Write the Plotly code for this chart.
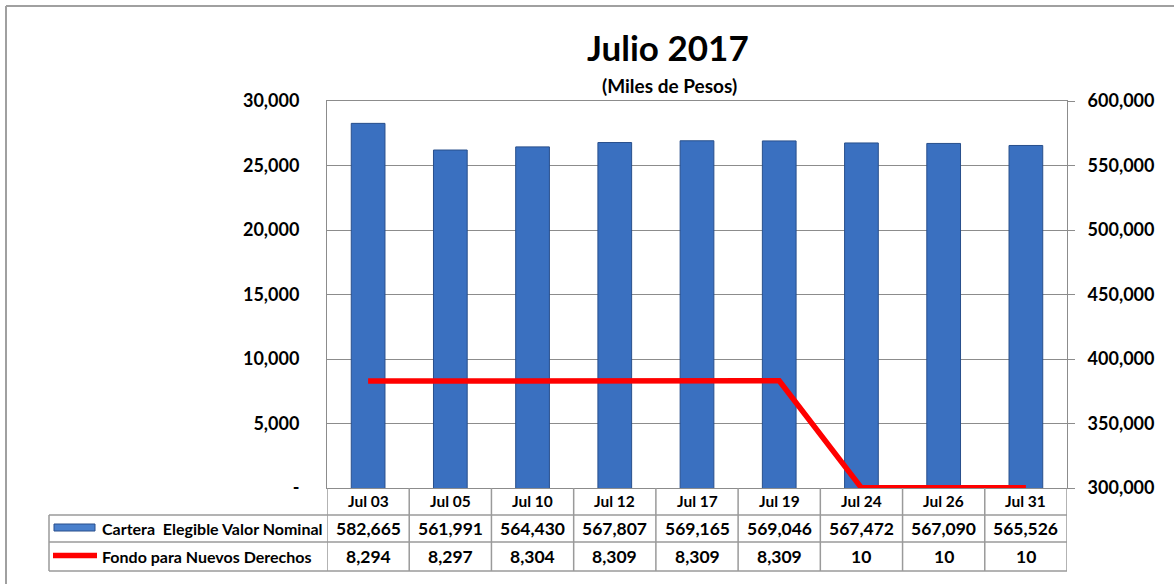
import plotly.graph_objects as go

categories = ["Jul 03", "Jul 05", "Jul 10", "Jul 12", "Jul 17", "Jul 19", "Jul 24", "Jul 26", "Jul 31"]
cartera = [582665, 561991, 564430, 567807, 569165, 569046, 567472, 567090, 565526]
fondo = [8294, 8297, 8304, 8309, 8309, 8309, 10, 10, 10]
left_ticks = [0, 5000, 10000, 15000, 20000, 25000, 30000]
left_ticktext = ["-", "5,000", "10,000", "15,000", "20,000", "25,000", "30,000"]
right_ticks = [300000, 350000, 400000, 450000, 500000, 550000, 600000]
series_names = ["Cartera\u00a0 Elegible Valor Nominal", "Fondo para Nuevos Derechos"]

W, H = 1174, 584
L, R, T, B = 327, 107, 101, 96
PW, PH = W - L - R, H - T - B
FONT = "Lato"
GRID = "#8c8c8c"
TABLE = "#9a9a9a"


def px_x(p):
    return (p - L) / PW


def px_y(p):
    return (H - B - p) / PH


fig = go.Figure()
fig.add_trace(go.Bar(
    x=categories, y=cartera, name=series_names[0], yaxis="y",
    marker=dict(color="#3a70c0", line=dict(color="#284f8c", width=1)),
    width=0.41, showlegend=False, hoverinfo="skip",
))
fig.add_trace(go.Scatter(
    x=categories, y=fondo, name=series_names[1], yaxis="y2", mode="lines",
    line=dict(color="#ff0000", width=5.5), cliponaxis=False, showlegend=False,
))

tick_font = dict(family=FONT, size=18, color="#000000", weight="bold")
fig.update_layout(
    width=W, height=H,
    margin=dict(l=L, r=R, t=T, b=B, pad=0),
    paper_bgcolor="white", plot_bgcolor="white",
    font=dict(family=FONT, color="#000000"),
    xaxis=dict(
        type="category", showticklabels=False, showgrid=False,
        showline=True, mirror=True, linecolor=GRID, linewidth=1,
        ticks="", range=[-0.5, len(categories) - 0.5], fixedrange=True,
    ),
    yaxis=dict(
        side="right", range=[300000, 600000], tickvals=right_ticks,
        tickformat=",d", tickfont=tick_font, showgrid=True, gridcolor=GRID,
        gridwidth=1, zeroline=False, showline=True, linecolor=GRID,
        ticks="outside", ticklen=7, tickcolor=GRID, ticklabelstandoff=9,
    ),
    yaxis2=dict(
        side="left", overlaying="y", range=[0, 30000], tickvals=left_ticks,
        ticktext=left_ticktext, tickfont=tick_font, showgrid=False,
        zeroline=False, showline=True, linecolor=GRID, ticks="",
        ticklabelstandoff=23,
    ),
)

shapes = []
# outer chart frame (top and left visible)
shapes.append(dict(type="line", xref="paper", yref="paper", x0=px_x(6), x1=px_x(1180),
                   y0=px_y(6), y1=px_y(6), line=dict(color="#a0a0a0", width=2)))
shapes.append(dict(type="line", xref="paper", yref="paper", x0=px_x(6), x1=px_x(6),
                   y0=px_y(6), y1=px_y(590), line=dict(color="#a0a0a0", width=2)))
# data table horizontal lines
for yp in (515, 542, 571):
    shapes.append(dict(type="line", xref="paper", yref="paper", x0=px_x(49), x1=1,
                       y0=px_y(yp), y1=px_y(yp), line=dict(color=TABLE, width=1.5)))
shapes.append(dict(type="line", xref="paper", yref="paper", x0=px_x(49), x1=px_x(49),
                   y0=px_y(515), y1=px_y(571), line=dict(color=TABLE, width=1.5)))
for i in range(len(categories) + 1):
    shapes.append(dict(type="line", xref="x", yref="paper", x0=i - 0.5, x1=i - 0.5,
                       y0=0, y1=px_y(571), line=dict(color=TABLE, width=1.5)))
# legend keys
shapes.append(dict(type="rect", xref="paper", yref="paper", x0=px_x(54), x1=px_x(95),
                   y0=px_y(524), y1=px_y(531), fillcolor="#4a80cc",
                   line=dict(color="#284f8c", width=1)))
shapes.append(dict(type="line", xref="paper", yref="paper", x0=px_x(53), x1=px_x(97),
                   y0=px_y(555.5), y1=px_y(555.5), line=dict(color="#ff0000", width=5.5)))


def ann(text, x, y, size, xref="paper", xanchor="center"):
    return dict(text="<b>" + text + "</b>", xref=xref, yref="paper", x=x, y=y,
                xanchor=xanchor, yanchor="middle", showarrow=False,
                font=dict(family=FONT, size=size, color="#000000"))


annotations = [
    ann("Julio 2017", px_x(668), px_y(47), 35),
    ann("(Miles de Pesos)", px_x(669), px_y(86), 19),
    ann(series_names[0], px_x(100), px_y(528), 16, xanchor="left"),
    ann(series_names[1], px_x(100), px_y(556), 16, xanchor="left"),
]
for c, v1, v2 in zip(categories, cartera, fondo):
    annotations.append(ann(c, c, px_y(501), 15.5, xref="x"))
    annotations.append(ann("{:,}".format(v1), c, px_y(528), 17.5, xref="x"))
    annotations.append(ann("{:,}".format(v2), c, px_y(556), 17.5, xref="x"))

fig.update_layout(shapes=shapes, annotations=annotations)
fig.write_html("out.html", config={"displayModeBar": False},
               post_script="document.body.style.margin='0';")
